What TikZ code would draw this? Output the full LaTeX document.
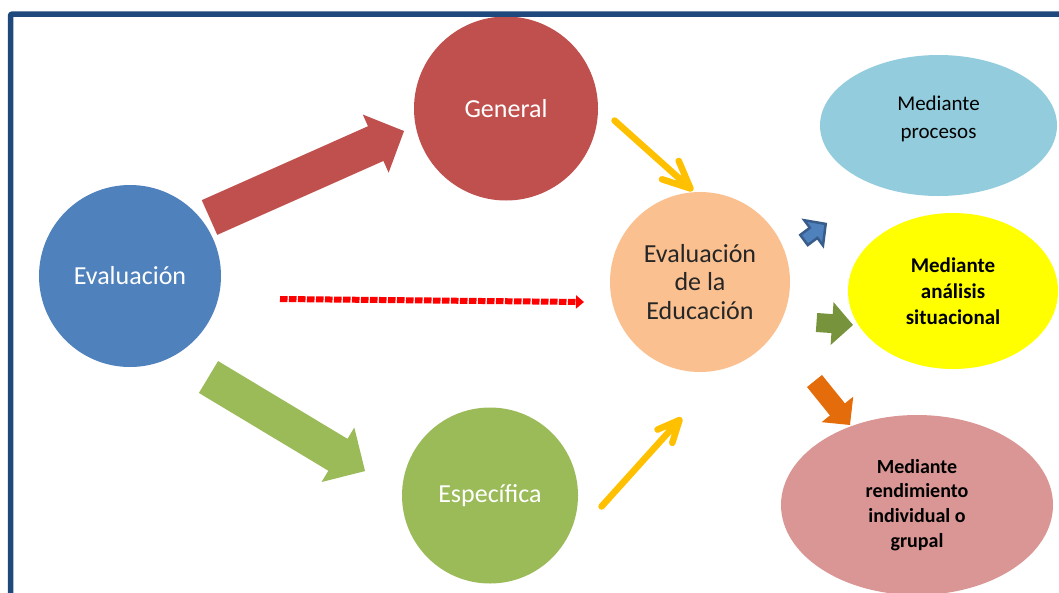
\documentclass[tikz,border=0pt]{standalone}
\usepackage{fontspec}
\setmainfont{Carlito}
\usetikzlibrary{shapes.geometric,arrows.meta,calc}
\definecolor{cBlue}{HTML}{4F81BD}
\definecolor{cRed}{HTML}{C0504D}
\definecolor{cGreen}{HTML}{9BBB59}
\definecolor{cPeach}{HTML}{FAC090}
\definecolor{cSky}{HTML}{93CDDD}
\definecolor{cYellow}{HTML}{FFFF00}
\definecolor{cPink}{HTML}{D99694}
\definecolor{cGold}{HTML}{FFC000}
\definecolor{cOlive}{HTML}{77933C}
\definecolor{cOrange}{HTML}{E46C0A}
\definecolor{cNavy}{HTML}{385D8A}
\definecolor{cFrame}{HTML}{1F497D}
% block arrow: style, tail, angle, length, shaft half width, head half width, head length
\newcommand\blockarr[7]{%
  \begin{scope}[shift={#2},rotate=#3]
    \path[#1] (0,-#5) -- ({#4-#7},-#5) -- ({#4-#7},-#6) -- (#4,0)
      -- ({#4-#7},#6) -- ({#4-#7},#5) -- (0,#5) -- cycle;
  \end{scope}}
\begin{document}
\begin{tikzpicture}[x=1pt,y=-1pt,
  circ/.style={circle,inner sep=0pt,align=center},
  ell/.style={ellipse,inner sep=0pt,align=center},
  big/.style={font=\fontsize{26}{28.5}\selectfont},
  med/.style={font=\fontsize{21}{28}\selectfont},
  yarr/.style={draw=cGold,line width=6.5pt,line cap=round,line join=round},
  frame/.style={draw=cFrame,line width=5.5pt,rounded corners=2pt}]
\useasboundingbox (0,0) rectangle (1059,592);
\clip (0,0) rectangle (1059,592);

% circles
\node[circ,fill=cBlue,minimum size=182pt,text=white,big] (eval) at (130,276) {Evaluación};
\node[circ,fill=cRed,minimum size=184pt,text=white,big] (gen) at (506,108.5) {General};
\node[circ,fill=cGreen,minimum size=176pt,text=white,big] (esp) at (490,495.5) {Específica};
\node[circ,fill=cPeach,minimum size=180pt,text=black!85,big] (edu) at (700,282) {Evaluación\\de la\\Educación};

% ellipses
\node[ell,fill=cSky,minimum width=237pt,minimum height=141pt] (proc) at (938.5,125.5) {};
\node[med,align=center] (proctext) at (938.5,118.5) {Mediante\\procesos};
\node[ell,fill=cYellow,minimum width=210pt,minimum height=156pt,font=\bfseries\fontsize{21}{26}\selectfont] (anal) at (953,291) {Mediante\\análisis\\situacional};
\node[ell,fill=cPink,minimum width=272pt,minimum height=180pt,font=\bfseries\fontsize{20}{24.7}\selectfont] (rend) at (917,505) {Mediante\\rendimiento\\individual o\\grupal};

% big block arrows
\blockarr{fill=cRed}{(209.5,217.5)}{23.97}{212.9}{19}{31.8}{31}
\blockarr{fill=cGreen}{(208.5,377)}{-31.0}{182.6}{18.6}{31.8}{31.6}

% small block arrows
\blockarr{fill=cBlue,draw=cNavy,line width=2.5pt,line join=miter}{(804,240)}{36.6}{27}{6.3}{15.7}{15}
\blockarr{fill=cOlive}{(816.5,322.5)}{-3.9}{36.6}{9.5}{21.5}{21}
\blockarr{fill=cOrange}{(814.5,381)}{-51.1}{56.5}{9.6}{20.3}{20}

% yellow arrows
\coordinate (ys1) at (614.5,120.5);
\coordinate (yt1) at (690.5,188.5);
\coordinate (ys2) at (601.5,506.5);
\coordinate (yt2) at (679.5,420);
\draw[yarr] (ys1) -- (yt1) ++(246.9:30) -- (yt1) -- ++(197.9:30);
\draw[yarr] (ys2) -- (yt2) ++(156.5:24) -- (yt2) -- ++(107.5:24);

% red dashed arrow
\coordinate (rs) at (280,299);
\coordinate (rt) at (584,302);
\draw[draw=red,fill=red,line width=6pt,dash pattern=on 7.5pt off 1.5pt,-{Triangle[width=13pt,length=8pt]}] (rs) -- (rt);

% frame
\draw[frame] (10.5,14) rectangle (1080,620);
\end{tikzpicture}
\end{document}
